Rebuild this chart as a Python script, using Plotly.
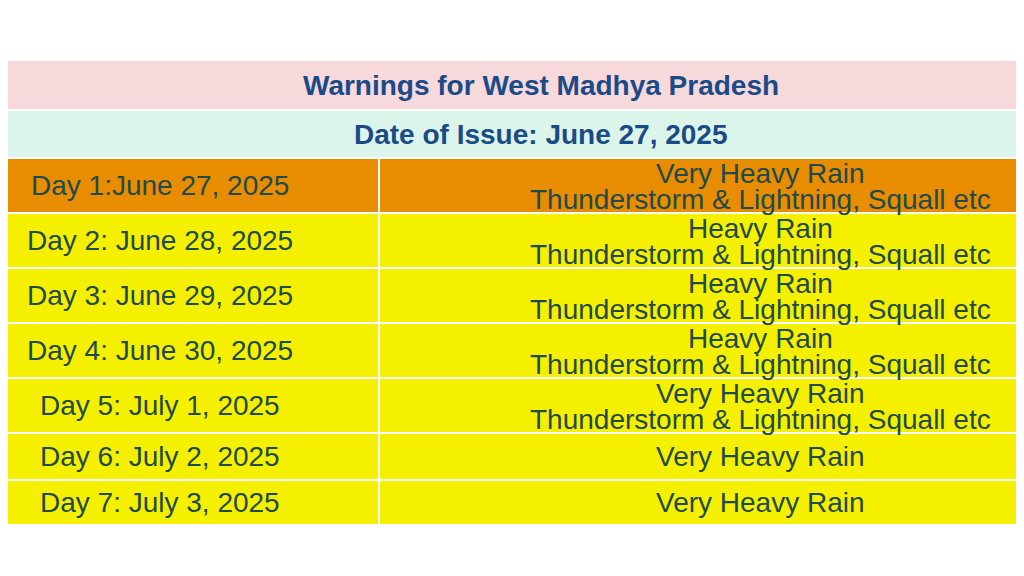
import plotly.graph_objects as go

title = "Warnings for West Madhya Pradesh"
issue = "Date of Issue: June 27, 2025"
days = ["Day 1:June 27, 2025", "Day 2: June 28, 2025", "Day 3: June 29, 2025",
        "Day 4: June 30, 2025", "Day 5: July 1, 2025", "Day 6: July 2, 2025",
        "Day 7: July 3, 2025"]
warnings = [["Very Heavy Rain", "Thunderstorm & Lightning, Squall etc"],
            ["Heavy Rain", "Thunderstorm & Lightning, Squall etc"],
            ["Heavy Rain", "Thunderstorm & Lightning, Squall etc"],
            ["Heavy Rain", "Thunderstorm & Lightning, Squall etc"],
            ["Very Heavy Rain", "Thunderstorm & Lightning, Squall etc"],
            ["Very Heavy Rain"], ["Very Heavy Rain"]]
row_colors = ["#e88c00"] + ["#f5f000"] * 6

# layout geometry (pixel space; table extends past the visible frame)
X0, XM, X1 = -59, 379, 1141
head_edges = [60, 110, 158]
row_edges = [158, 213, 268, 323, 378, 433, 480, 525]
OFF = 8  # page body margin compensation

FONT = "Liberation Sans, Arial"
fig = go.Figure()
shapes, ann = [], []
line = dict(color="white", width=2)
for (y0, y1), txt, col in zip([(head_edges[0], head_edges[1]), (head_edges[1], head_edges[2])],
                              [title, issue], ["#f7d9dc", "#dcf5ea"]):
    shapes.append(dict(type="rect", x0=X0, x1=X1, y0=y0, y1=y1, fillcolor=col, line=line, layer="below"))
    ann.append(dict(x=(X0 + X1) / 2, y=(y0 + y1) / 2, text=f"<b>{txt}</b>", showarrow=False,
                    font=dict(family=FONT, size=28, color="#1a4b86")))
for i, (d, w, c) in enumerate(zip(days, warnings, row_colors)):
    y0, y1 = row_edges[i], row_edges[i + 1]
    shapes.append(dict(type="rect", x0=X0, x1=XM, y0=y0, y1=y1, fillcolor=c, line=line, layer="below"))
    shapes.append(dict(type="rect", x0=XM, x1=X1, y0=y0, y1=y1, fillcolor=c, line=line, layer="below"))
    f = dict(family=FONT, size=28, color="#1f4a4f")
    ann.append(dict(x=(X0 + XM) / 2, y=(y0 + y1) / 2, text=d, showarrow=False, font=f))
    if len(w) == 1:
        ys = [(y0 + y1) / 2]
    else:
        ys = [y0 + 15, y0 + 41]
    for t, yy in zip(w, ys):
        ann.append(dict(x=(XM + X1) / 2, y=yy, text=t, showarrow=False, font=f))
fig.add_trace(go.Scatter(x=[0, 1024], y=[0, 576], mode="markers", marker=dict(opacity=0), hoverinfo="skip"))
fig.update_layout(width=1024, height=576, margin=dict(l=0, r=0, t=0, b=0),
                  paper_bgcolor="white", plot_bgcolor="white", showlegend=False,
                  shapes=shapes, annotations=ann,
                  xaxis=dict(range=[OFF, 1024 + OFF], visible=False, fixedrange=True),
                  yaxis=dict(range=[576 + OFF, OFF], visible=False, fixedrange=True))
fig.write_html("out.html", config={"displayModeBar": False})
